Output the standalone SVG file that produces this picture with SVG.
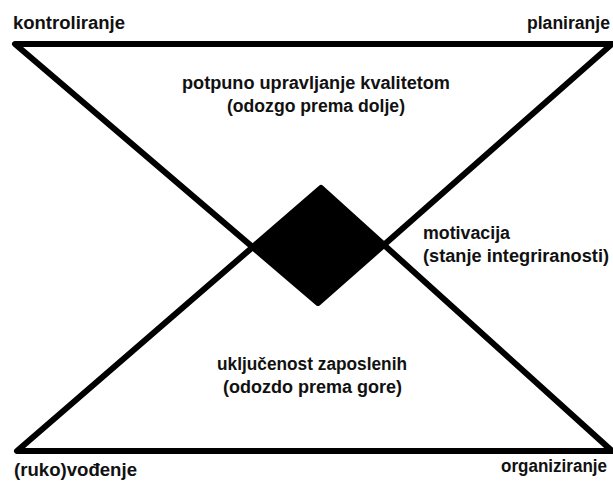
<svg xmlns="http://www.w3.org/2000/svg" width="613" height="482" viewBox="0 0 613 482">
<style>
.ln{fill:none;stroke:#000;stroke-width:6;stroke-linejoin:round;stroke-linecap:round}
.t{font-family:"Liberation Sans",Arial,sans-serif;font-weight:bold;font-size:18px;fill:#111}
</style>
<rect width="613" height="482" fill="#fff"/>
<g id="connectors">
<polygon class="ln" points="15,44 612,44 318,303"/>
<polygon class="ln" points="17,451 612,451 321,188"/>
</g>
<g id="center-diamond">
<polygon points="321,188 384,245 318,303 253,247" fill="#000" stroke="#000" stroke-width="2"/>
</g>
<g id="kontroliranje"><text class="t" x="13" y="29" textLength="112" lengthAdjust="spacingAndGlyphs">kontroliranje</text></g>
<g id="planiranje"><text class="t" x="527" y="29" textLength="83" lengthAdjust="spacingAndGlyphs">planiranje</text></g>
<g id="tqm"><text class="t" x="182" y="89" textLength="268" lengthAdjust="spacingAndGlyphs">potpuno upravljanje kvalitetom</text><text class="t" x="227" y="112" textLength="178" lengthAdjust="spacingAndGlyphs">(odozgo prema dolje)</text></g>
<g id="motivacija"><text class="t" x="423" y="239" textLength="87" lengthAdjust="spacingAndGlyphs">motivacija</text><text class="t" x="423" y="262" textLength="186" lengthAdjust="spacingAndGlyphs">(stanje integriranosti)</text></g>
<g id="ukljucenost"><text class="t" x="217" y="370" textLength="190" lengthAdjust="spacingAndGlyphs">uključenost zaposlenih</text><text class="t" x="223" y="393" textLength="179" lengthAdjust="spacingAndGlyphs">(odozdo prema gore)</text></g>
<g id="rukovodenje"><text class="t" x="14" y="476" textLength="123" lengthAdjust="spacingAndGlyphs">(ruko)vođenje</text></g>
<g id="organiziranje"><text class="t" x="501" y="472" textLength="106" lengthAdjust="spacingAndGlyphs">organiziranje</text></g>
</svg>
